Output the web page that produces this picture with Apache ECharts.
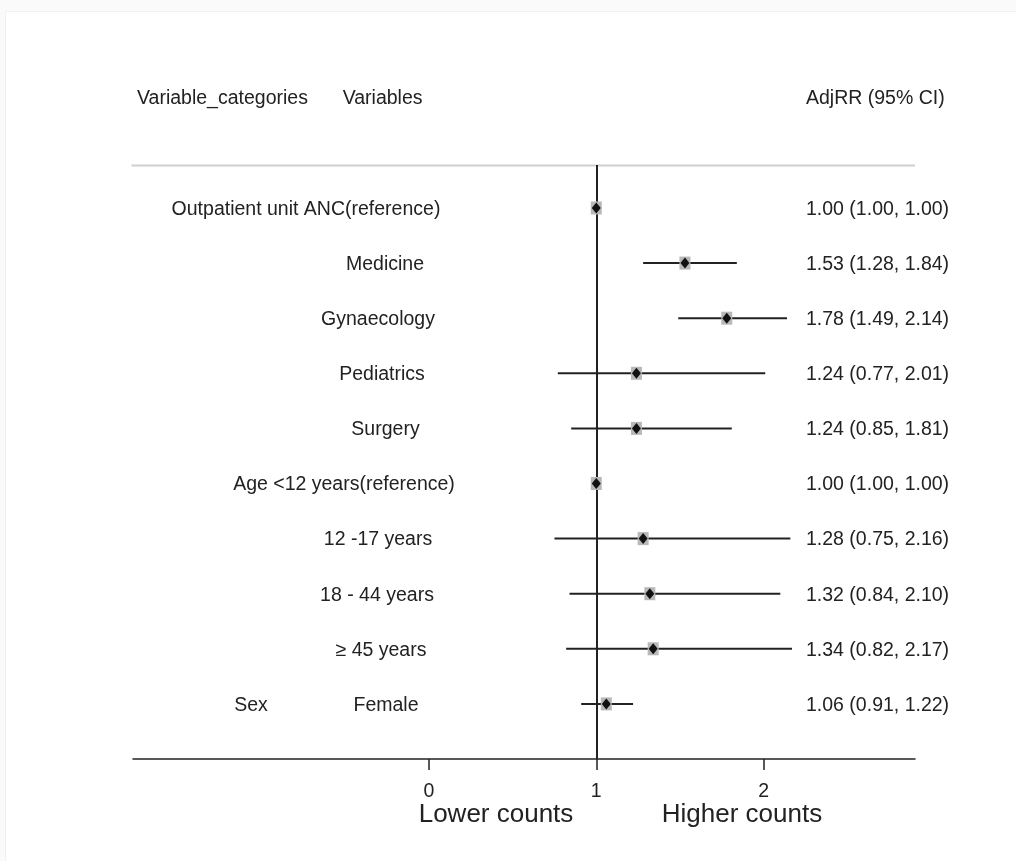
<!DOCTYPE html>
<html>
<head>
<meta charset="utf-8">
<script src="https://cdn.jsdelivr.net/npm/echarts@6/dist/echarts.min.js"></script>
<style>
  html, body { margin: 0; padding: 0; background: #fff; }
  #chart { width: 1016px; height: 861px; }
</style>
</head>
<body>
<div id="chart"></div>
<script>
// ---- data ----
var variableCategories = ["", "", "", "", "", "", "", "", "", "Sex"];
var variables = [
  "Outpatient unit ANC(reference)",
  "Medicine",
  "Gynaecology",
  "Pediatrics",
  "Surgery",
  "Age <12 years(reference)",
  "12 -17 years",
  "18 - 44 years",
  "\u2265 45 years",
  "Female"
];
var adjRR = [1.00, 1.53, 1.78, 1.24, 1.24, 1.00, 1.28, 1.32, 1.34, 1.06];
var ciLow = [1.00, 1.28, 1.49, 0.77, 0.85, 1.00, 0.75, 0.84, 0.82, 0.91];
var ciHigh = [1.00, 1.84, 2.14, 2.01, 1.81, 1.00, 2.16, 2.10, 2.17, 1.22];
var xTicks = [0, 1, 2];
var headers = ["Variable_categories", "Variables", "AdjRR (95% CI)"];
var axisCaptions = ["Lower counts", "Higher counts"];

// ---- layout (pixels) ----
var variableCenterX = [306, 385, 378, 382, 385.5, 344, 378, 377, 381, 386];
var categoryCenterX = 251;
var ciTextLeftX = 806;
var txtColor = '#222';
var font = '"Liberation Sans", Arial, Helvetica, sans-serif';

var rows = adjRR.map(function (v, i) { return [i, v, ciLow[i], ciHigh[i]]; });

var chart = echarts.init(document.getElementById('chart'), null, { renderer: 'canvas' });

var option = {
  backgroundColor: '#ffffff',
  animation: false,
  textStyle: { fontFamily: font },
  grid: { left: 133, right: 101, top: 165, bottom: 102 },
  xAxis: {
    type: 'value',
    min: -1.769,
    max: 2.905,
    axisLine: { show: true, onZero: false, lineStyle: { color: '#222', width: 1.5 } },
    axisTick: { show: true, customValues: xTicks, length: 11, lineStyle: { color: '#222', width: 1.5 } },
    axisLabel: { customValues: xTicks, fontSize: 19.5, color: txtColor, margin: 23, fontFamily: font },
    splitLine: { show: false }
  },
  yAxis: {
    type: 'value',
    inverse: true,
    min: -0.78,
    max: 10.0,
    show: false
  },
  graphic: [
    { type: 'rect', silent: true, shape: { x: 0, y: 0, width: 1016, height: 11 }, style: { fill: '#fafafa' } },
    { type: 'rect', silent: true, shape: { x: 0, y: 0, width: 5, height: 861 }, style: { fill: '#fafafa' } },
    { type: 'polyline', silent: true, shape: { points: [[5.5, 861], [5.5, 11.5], [1016, 11.5]] }, style: { stroke: '#f0f0f0', lineWidth: 1, fill: null } },
    { type: 'line', silent: true, shape: { x1: 131.5, y1: 165.5, x2: 915, y2: 165.5 },
      style: { stroke: '#cfcfcf', lineWidth: 2 } },
    { type: 'text', left: 137, top: 89, style: { text: headers[0], fontSize: 19.5, fill: txtColor, fontFamily: font } },
    { type: 'text', left: 342.7, top: 89, style: { text: headers[1], fontSize: 19.5, fill: txtColor, fontFamily: font } },
    { type: 'text', left: 806, top: 89, style: { text: headers[2], fontSize: 19.5, fill: txtColor, fontFamily: font } },
    { type: 'text', x: 496, y: 815, style: { text: axisCaptions[0], fontSize: 26, fill: txtColor, fontFamily: font, align: 'center', verticalAlign: 'middle' } },
    { type: 'text', x: 742, y: 815, style: { text: axisCaptions[1], fontSize: 26, fill: txtColor, fontFamily: font, align: 'center', verticalAlign: 'middle' } }
  ],
  series: [
    {
      type: 'custom',
      clip: false,
      data: rows,
      encode: { x: [1, 2, 3], y: 0 },
      renderItem: function (params, api) {
        var i = api.value(0);
        var pe = api.coord([api.value(1), i]);
        var pl = api.coord([api.value(2), i]);
        var ph = api.coord([api.value(3), i]);
        var children = [];
        if (ph[0] - pl[0] > 0.5) {
          children.push({ type: 'line', shape: { x1: pl[0], y1: pl[1], x2: ph[0], y2: ph[1] },
            style: { stroke: '#222', lineWidth: 2 } });
        }
        children.push({ type: 'rect', shape: { x: pe[0] - 5.5, y: pe[1] - 6.5, width: 11, height: 13 },
          style: { fill: '#b8b8b8' } });
        children.push({ type: 'polygon', shape: { points: [[pe[0], pe[1] - 5.5], [pe[0] + 4.5, pe[1]], [pe[0], pe[1] + 5.5], [pe[0] - 4.5, pe[1]]] },
          style: { fill: '#111' } });
        var ci = api.value(1).toFixed(2) + ' (' + api.value(2).toFixed(2) + ', ' + api.value(3).toFixed(2) + ')';
        var ty = pe[1] + 1.5;
        children.push({ type: 'text', x: variableCenterX[i], y: ty,
          style: { text: variables[i], fontSize: 19.5, fill: txtColor, fontFamily: font, align: 'center', verticalAlign: 'middle' } });
        if (variableCategories[i]) {
          children.push({ type: 'text', x: categoryCenterX, y: ty,
            style: { text: variableCategories[i], fontSize: 19.5, fill: txtColor, fontFamily: font, align: 'center', verticalAlign: 'middle' } });
        }
        children.push({ type: 'text', x: ciTextLeftX, y: ty,
          style: { text: ci, fontSize: 19.5, fill: txtColor, fontFamily: font, align: 'left', verticalAlign: 'middle' } });
        return { type: 'group', children: children };
      },
      markLine: {
        silent: true,
        symbol: 'none',
        label: { show: false },
        lineStyle: { color: '#222', width: 2, type: 'solid' },
        data: [{ xAxis: 1 }],
        z: 1
      },
      z: 3
    }
  ]
};
chart.setOption(option);
</script>
</body>
</html>
